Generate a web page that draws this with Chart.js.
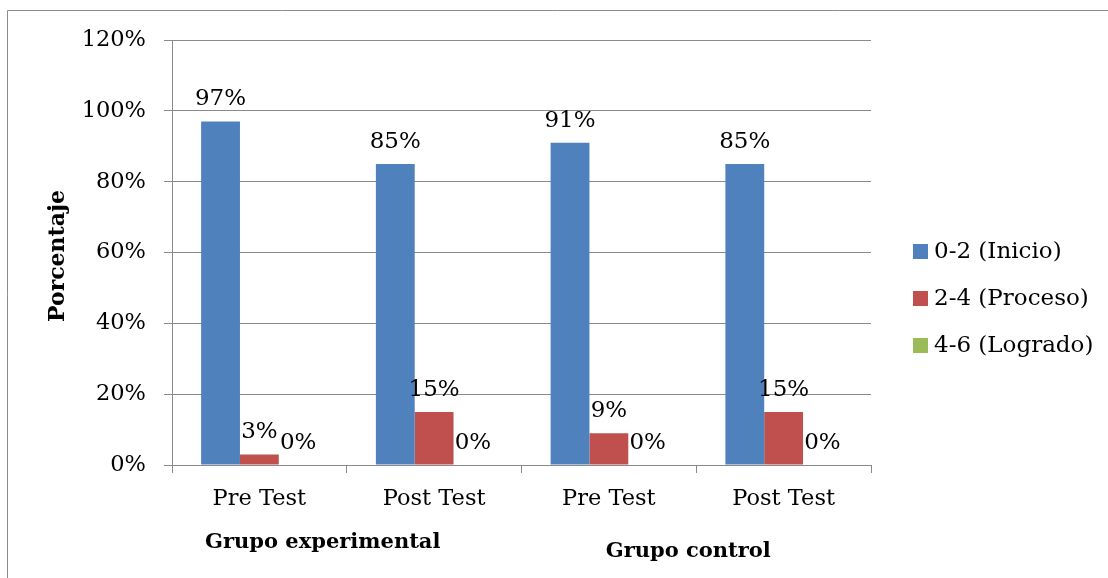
<!DOCTYPE html>
<html>
<head>
<meta charset="utf-8">
<script src="https://cdn.jsdelivr.net/npm/chart.js@4.4.0/dist/chart.umd.min.js"></script>
<style>
  html, body { margin: 0; padding: 0; background: #ffffff; }
  canvas { display: block; }
</style>
</head>
<body>
<canvas id="chart" width="1108" height="578"></canvas>
<script>
// Categories, groups and series
const categories = ['Pre Test', 'Post Test', 'Pre Test', 'Post Test'];
const groupNames = ['Grupo experimental', 'Grupo control'];
const seriesNames = ['0-2 (Inicio)', '2-4 (Proceso)', '4-6 (Logrado)'];

// Percentages per category
const inicio  = [97, 85, 91, 85];
const proceso = [3, 15, 9, 15];
const logrado = [0, 0, 0, 0];

// Y axis tick values (percent)
const yTicks = [0, 20, 40, 60, 80, 100, 120];

const seriesColors = ['#4F81BD', '#C0504D', '#9BBB59'];
const gridColor = '#8a8a8a';
const serif = "'DejaVu Serif', 'Liberation Serif', serif";

Chart.defaults.font.family = serif;
Chart.defaults.color = '#000000';

// Thin grey frame along the left and top edges
const framePlugin = {
  id: 'frame',
  beforeDraw(chart) {
    const ctx = chart.ctx;
    ctx.save();
    ctx.strokeStyle = '#8c8c8c';
    ctx.lineWidth = 1;
    ctx.beginPath();
    ctx.moveTo(7.5, chart.height);
    ctx.lineTo(7.5, 10.5);
    ctx.lineTo(chart.width, 10.5);
    ctx.stroke();
    ctx.restore();
  }
};

// Percentage labels above each bar
const valueLabels = {
  id: 'valueLabels',
  afterDatasetsDraw(chart) {
    const ctx = chart.ctx;
    ctx.save();
    ctx.font = '23px ' + serif;
    ctx.fillStyle = '#000000';
    ctx.textAlign = 'center';
    ctx.textBaseline = 'alphabetic';
    chart.data.datasets.forEach((ds, di) => {
      const meta = chart.getDatasetMeta(di);
      meta.data.forEach((bar, i) => {
        ctx.fillText(ds.data[i] + '%', bar.x, bar.y - 16);
      });
    });
    ctx.restore();
  }
};

// Legend on the right, axis title and group captions
const annotations = {
  id: 'annotations',
  afterDraw(chart) {
    const ctx = chart.ctx;
    const xs = chart.scales.x;
    ctx.save();

    // Legend
    ctx.font = '23px ' + serif;
    ctx.textAlign = 'left';
    ctx.textBaseline = 'middle';
    chart.data.datasets.forEach((ds, i) => {
      const cy = 251.5 + i * 47;
      ctx.fillStyle = ds.backgroundColor;
      ctx.fillRect(913, cy - 7.5, 15, 15);
      ctx.fillStyle = '#000000';
      ctx.fillText(ds.label, 934, cy + 1);
    });

    // Y axis title
    ctx.save();
    ctx.translate(58, 256);
    ctx.rotate(-Math.PI / 2);
    ctx.font = 'bold 22px ' + serif;
    ctx.textAlign = 'center';
    ctx.textBaseline = 'middle';
    ctx.fillText('Porcentaje', 0, 0);
    ctx.restore();

    // Group captions under each pair of categories
    ctx.font = 'bold 21px ' + serif;
    ctx.textAlign = 'center';
    ctx.textBaseline = 'alphabetic';
    const mid1 = (xs.getPixelForValue(0) + xs.getPixelForValue(1)) / 2;
    const mid2 = (xs.getPixelForValue(2) + xs.getPixelForValue(3)) / 2;
    ctx.fillText(groupNames[0], mid1 - 24, 548);
    ctx.fillText(groupNames[1], mid2 - 8, 557);

    ctx.restore();
  }
};

new Chart(document.getElementById('chart'), {
  type: 'bar',
  data: {
    labels: categories,
    datasets: [
      { label: seriesNames[0], data: inicio,  backgroundColor: seriesColors[0] },
      { label: seriesNames[1], data: proceso, backgroundColor: seriesColors[1] },
      { label: seriesNames[2], data: logrado, backgroundColor: seriesColors[2] }
    ]
  },
  options: {
    responsive: false,
    animation: false,
    events: [],
    layout: { padding: { top: 40, right: 237, left: 0, bottom: 0 } },
    datasets: {
      bar: { categoryPercentage: 3 / 4.5, barPercentage: 1.0 }
    },
    plugins: {
      legend: { display: false },
      tooltip: { enabled: false }
    },
    scales: {
      x: {
        grid: {
          display: true,
          offset: true,
          drawOnChartArea: false,
          drawTicks: true,
          tickLength: 8,
          color: gridColor
        },
        border: { display: true, color: gridColor },
        ticks: {
          color: '#000000',
          font: { size: 22.5 },
          padding: 13,
          maxRotation: 0,
          autoSkip: false
        },
        afterFit(scale) { scale.height = 578 - 465; }
      },
      y: {
        min: 0,
        max: 120,
        afterBuildTicks(scale) { scale.ticks = yTicks.map(v => ({ value: v })); },
        grid: { color: gridColor, tickLength: 8, drawTicks: true },
        border: { display: true, color: gridColor },
        ticks: {
          color: '#000000',
          font: { size: 22.5 },
          padding: 18,
          callback: v => v + '%'
        },
        afterFit(scale) { scale.width = 172; }
      }
    }
  },
  plugins: [framePlugin, valueLabels, annotations]
});
</script>
</body>
</html>
